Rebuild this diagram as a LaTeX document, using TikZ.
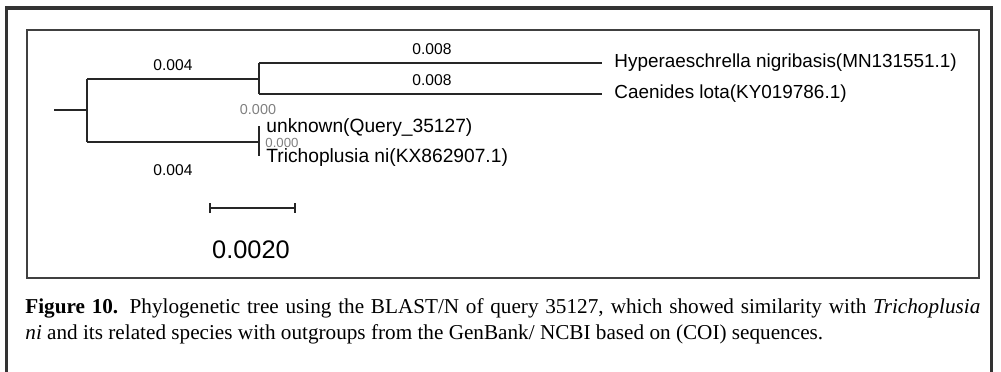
\documentclass[tikz,border=0pt]{standalone}
\usepackage{fontspec}
\setmainfont{Liberation Serif}
\setsansfont{Liberation Sans}
\usetikzlibrary{arrows.meta,calc,positioning}
\tikzset{>=latex}
\tikzstyle{branch}=[draw=black!85,line width=1pt]
\tikzstyle{leaf}=[anchor=west,inner ysep=0pt,inner xsep=6pt,font=\sffamily\fontsize{9.45}{11}\selectfont]
\tikzstyle{leafq}=[anchor=west,inner ysep=0pt,inner xsep=3.5pt,font=\sffamily\fontsize{9.6}{11}\selectfont]
\tikzstyle{blen}=[inner sep=0pt,font=\sffamily\fontsize{7.8}{9}\selectfont]
\tikzstyle{zero}=[inner sep=0pt,text=black!50,font=\sffamily\fontsize{7.2}{8}\selectfont]

\begin{document}
\begin{tikzpicture}[x=0.5pt,y=-0.5pt]
\def \xroot {87};
\def \xin {259};
\def \xtip {602};
\useasboundingbox (0,0) rectangle (1001,371);

% frames
\draw[line width=1.6pt,black!80] (6.5,420) -- (6.5,8) -- (991.5,8) -- (991.5,420);
\draw[line width=1pt,black!75] (27,30) rectangle (979,278);

% internal nodes
\coordinate (stub) at (54,110);
\coordinate (r) at (\xroot,110);
\coordinate (ru) at (\xroot,79);
\coordinate (rd) at (\xroot,142);
\coordinate (a) at (\xin,79);
\coordinate (au) at (\xin,63);
\coordinate (ad) at (\xin,94);
\coordinate (b) at (\xin,142);
\coordinate (bu) at (\xin,126);
\coordinate (bd) at (\xin,156);

% leaves
\node[leaf] (hyp) at (\xtip,63) {Hyperaeschrella nigribasis(MN131551.1)};
\node[leaf] (cae) at (\xtip,94) {Caenides lota(KY019786.1)};
\node[leafq] (unk) at (\xin,128) {unknown(Query\_35127)};
\node[leafq] (tri) at (\xin,157.5) {Trichoplusia ni(KX862907.1)};

\draw[branch] (stub) -- (r);
\draw[branch] (ru) -- (rd);
\draw[branch] (ru) -- (a);
\draw[branch] (rd) -- (b);
\draw[branch] (au) -- (ad);
\draw[branch] (au) -- (hyp);
\draw[branch] (ad) -- (cae);
\draw[branch] (bu) -- (bd);

% branch lengths
\node[blen] (l1) at (173,65) {0.004};
\node[blen] (l2) at (173,170) {0.004};
\node[blen] (l3) at (432,49) {0.008};
\node[blen] (l4) at (432,80) {0.008};
\node[zero] (z1) at (258,110) {0.000};
\node[zero,font=\sffamily\fontsize{6.6}{7}\selectfont] (z2) at (282,142.5) {0.000};

% scale bar
\coordinate (sl) at (209,208);
\coordinate (sr) at (296,208);
\draw[branch,{Bar[width=5pt]}-{Bar[width=5pt]}] (sl) -- (sr);
\node[inner sep=0pt,font=\sffamily\fontsize{12.7}{14}\selectfont] (sc) at (251,250) {0.0020};

% caption
\node[anchor=base west,inner sep=0pt,text width=477.5pt,align=justify,
      font=\fontsize{10.6}{13}\selectfont] (cap) at (25,313)
{\textbf{Figure 10.} Phylogenetic tree using the BLAST/N of query 35127, which showed similarity with \textit{Trichoplusia}\linebreak
\textit{ni} and its related species with outgroups from the GenBank/ NCBI based on (COI) sequences.};

\end{tikzpicture}
\end{document}
